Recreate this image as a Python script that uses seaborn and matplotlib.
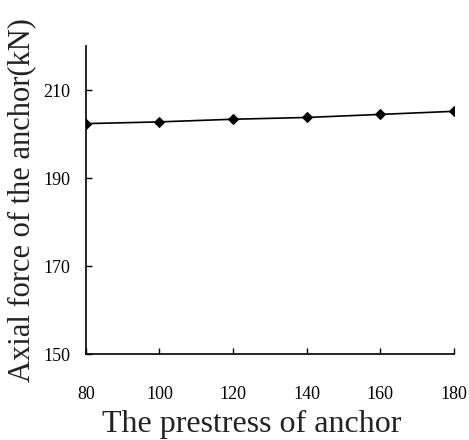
import matplotlib
matplotlib.use("Agg")
import matplotlib.pyplot as plt
import seaborn as sns
import pandas as pd

prestress = [80, 100, 120, 140, 160, 180]
axial_force = [202.4, 202.8, 203.4, 203.8, 204.5, 205.2]
x_ticks = [80, 100, 120, 140, 160, 180]
y_ticks = [150, 170, 190, 210]

sns.set_theme(style="ticks")
plt.rcParams['font.family'] = ['Liberation Serif', 'DejaVu Serif']

df = pd.DataFrame({"x": prestress, "y": axial_force})

fig = plt.figure(figsize=(4.69, 4.40), dpi=100)
ax = fig.add_axes([0.183, 0.195, 0.785, 0.70])
sns.lineplot(data=df, x="x", y="y", ax=ax, color="black", linewidth=1.2,
             marker="D", markersize=5, markeredgecolor="black", markerfacecolor="black")
ax.set_xlim(80, 180)
ax.set_ylim(150, 220)
ax.set_xticks(x_ticks)
ax.set_yticks(y_ticks)
ax.tick_params(direction="in", length=4, width=1, colors="black", labelsize=13)
ax.tick_params(axis="x", pad=23)
ax.tick_params(axis="y", pad=11)
for s in ["top", "right"]:
    ax.spines[s].set_visible(False)
for s in ["left", "bottom"]:
    ax.spines[s].set_color("black")
    ax.spines[s].set_linewidth(1.2)
ax.set_xlabel("The prestress of anchor", fontsize=23, color="#222222")
ax.xaxis.set_label_coords(0.45, -0.18)
ax.set_ylabel("Axial force of the anchor(kN)", fontsize=22, labelpad=5, color="#222222")
fig.savefig("out.png", dpi=100)
